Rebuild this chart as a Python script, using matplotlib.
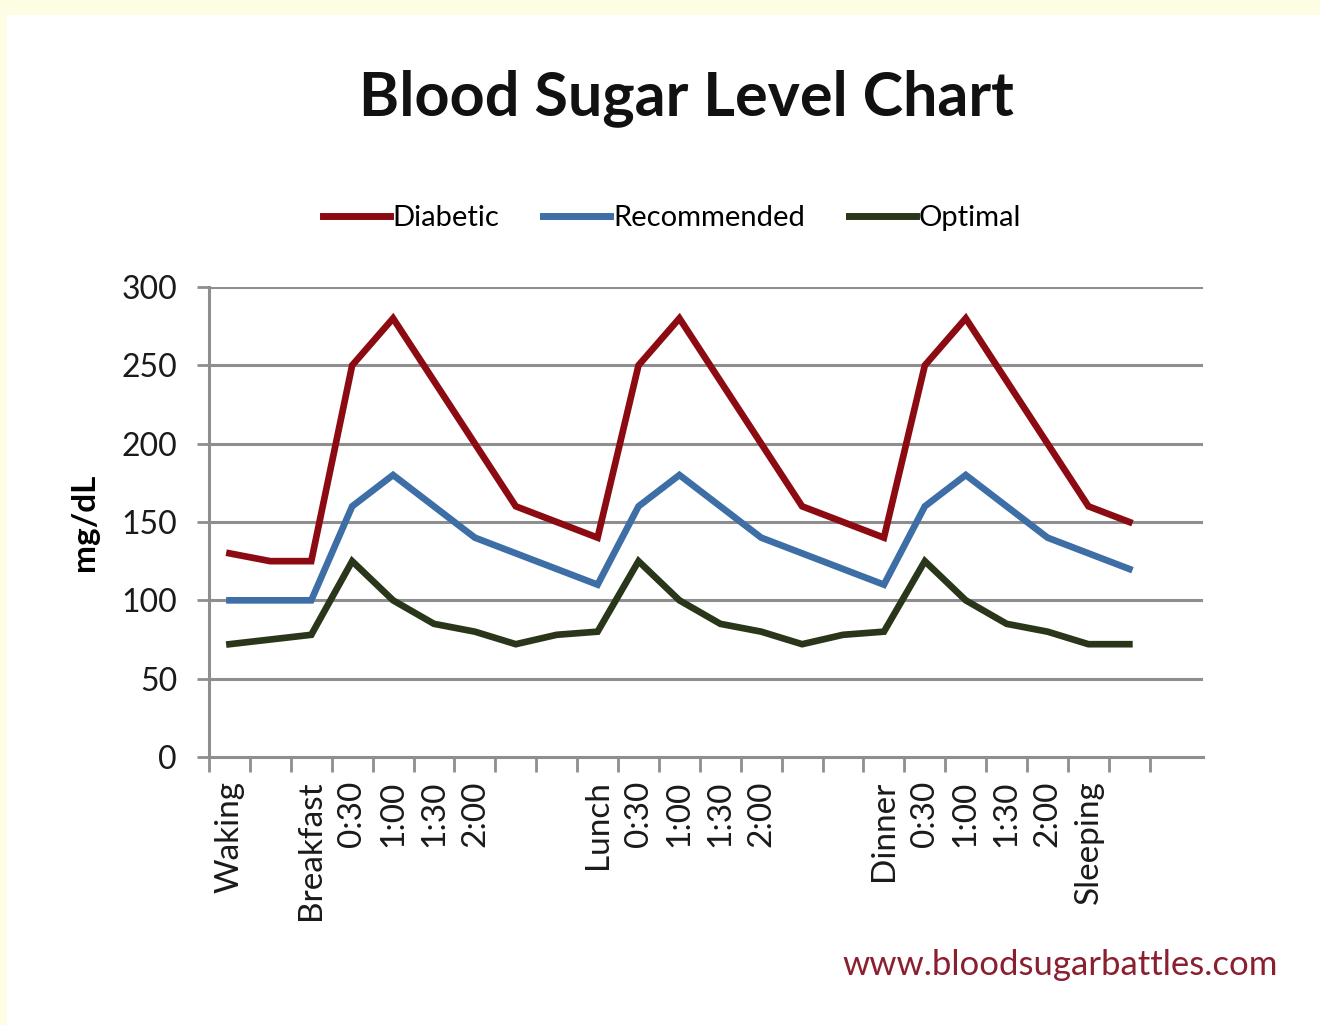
import numpy as np
import matplotlib
matplotlib.use("Agg")
import matplotlib.pyplot as plt
from matplotlib.patches import Rectangle

plt.rcParams['font.family'] = ['Lato', 'DejaVu Sans']

# category labels (blank slots keep the spacing)
times = ['Waking', '', 'Breakfast', '0:30', '1:00', '1:30', '2:00', '', '',
         'Lunch', '0:30', '1:00', '1:30', '2:00', '', '',
         'Dinner', '0:30', '1:00', '1:30', '2:00', 'Sleeping', '']

diabetic = [130, 125, 125, 250, 280, 240, 200, 160, 150,
            140, 250, 280, 240, 200, 160, 150,
            140, 250, 280, 240, 200, 160, 150]
recommended = [100, 100, 100, 160, 180, 160, 140, 130, 120,
               110, 160, 180, 160, 140, 130, 120,
               110, 160, 180, 160, 140, 130, 120]
optimal = [72, 75, 78, 125, 100, 85, 80, 72, 78,
           80, 125, 100, 85, 80, 72, 78,
           80, 125, 100, 85, 80, 72, 72]

x = np.arange(len(times))

fig = plt.figure(figsize=(13.2, 10.25), dpi=100, facecolor='#fdfde3')
# white card over the pale yellow border
fig.patches.append(Rectangle((7 / 1320, 0), 1, 1 - 15 / 1025, transform=fig.transFigure,
                             facecolor='white', edgecolor='none', zorder=-10))

ax = fig.add_axes([209 / 1320, 1 - 757 / 1025, (1203 - 209) / 1320, (757 - 287) / 1025])
ax.set_facecolor('white')

grid_c = '#8e8e8e'
for yv in range(50, 301, 50):
    ax.axhline(yv, color=grid_c, lw=2.2, zorder=1)

ax.plot(x, diabetic, color='#8c0a12', lw=4.8, label='Diabetic', zorder=3, solid_joinstyle='miter')
ax.plot(x, recommended, color='#3d6ea5', lw=4.8, label='Recommended', zorder=3, solid_joinstyle='miter')
ax.plot(x, optimal, color='#2a361a', lw=4.8, label='Optimal', zorder=3, solid_joinstyle='miter')

ax.set_xlim(-0.5, 23.8)
ax.set_ylim(0, 300)

for s in ['top', 'right']:
    ax.spines[s].set_visible(False)
for s in ['left', 'bottom']:
    ax.spines[s].set_color(grid_c)
    ax.spines[s].set_linewidth(2.2)

ax.set_yticks(range(0, 301, 50))
ax.tick_params(axis='y', labelsize=23, colors=grid_c, labelcolor='#1a1a1a',
               length=9, width=2, pad=14)

# ticks at category boundaries, labels at category centres
ax.set_xticks(np.arange(-0.5, len(times), 1.0))
ax.set_xticklabels([])
ax.set_xticks(x, minor=True)
ax.set_xticklabels(times, minor=True, rotation=90, fontsize=24, color='#1a1a1a')
ax.tick_params(axis='x', which='major', colors=grid_c, length=11, width=2)
ax.tick_params(axis='x', which='minor', length=0, pad=17)

ax.set_ylabel('mg/dL', fontsize=24, fontweight='bold', labelpad=16)

fig.text(686 / 1320, 1 - 98 / 1025, 'Blood Sugar Level Chart', ha='center', va='center',
         fontsize=44, fontweight='bold', color='#111111')

leg = fig.legend(loc='center', bbox_to_anchor=(672 / 1320, 1 - 218 / 1025), ncol=3,
                 frameon=False, fontsize=21, handlelength=2.3, handletextpad=0.1,
                 columnspacing=1.5)
for line in leg.get_lines():
    line.set_linewidth(5)

fig.text(1278 / 1320, 1 - 965 / 1025, 'www.bloodsugarbattles.com', ha='right', va='center',
         fontsize=25, color='#8a1f30')

fig.savefig('out.png', dpi=100, facecolor=fig.get_facecolor())
